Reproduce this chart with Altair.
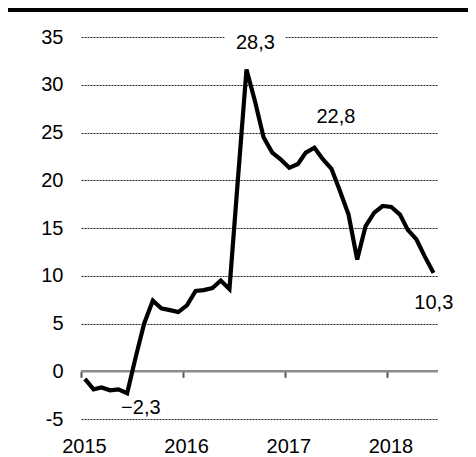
import altair as alt
import pandas as pd

# Monthly series, Jan 2015 - Jun 2018 (plotted mid-month)
months = [f"{y}-{m:02d}-15" for y in range(2015, 2019) for m in range(1, 13)][:42]
values = [-0.8, -1.9, -1.7, -2.0, -1.9, -2.3, 1.4, 5.0, 7.4, 6.6, 6.4, 6.2,
          6.9, 8.4, 8.5, 8.7, 9.5, 8.6, 20.0, 31.6, 28.2, 24.5, 22.9, 22.2,
          21.3, 21.7, 22.9, 23.4, 22.2, 21.2, 18.9, 16.4, 11.7, 15.2, 16.6, 17.3,
          17.2, 16.4, 14.8, 13.8, 12.0, 10.3]

# Annotations
label_text = ["28,3", "22,8", "10,3", "\u22122,3"]
label_date = ["2016-09-16", "2017-07-01", "2018-06-16", "2015-08-03"]
label_value = [33.7, 26.0, 6.5, -4.45]

# white knock-out behind the "28,3" label
knock_x = ["2016-05-29"]
knock_x2 = ["2017-01-01"]
knock_y = [33.3]
knock_y2 = [36.0]

y_ticks = [-5, 0, 5, 10, 15, 20, 25, 30, 35]
x_years = [2015, 2016, 2017, 2018]

# zero baseline band (horizontal axis line)
zero_x = ["2015-01-01"]
zero_x2 = ["2018-07-01"]
zero_y = [-0.13]
zero_y2 = [0.13]

FONT = "Liberation Sans"
FS = 20

df = pd.DataFrame({"date": months, "value": values})
lab = pd.DataFrame({"date": label_date, "value": label_value, "text": label_text})
knock = pd.DataFrame({"x": knock_x, "x2": knock_x2, "y": knock_y, "y2": knock_y2})
zero = pd.DataFrame({"x": zero_x, "x2": zero_x2, "y": zero_y, "y2": zero_y2})

xscale = alt.Scale(type="utc", domain=[alt.DateTime(year=2015, month=1, date=1, utc=True),
                                       alt.DateTime(year=2018, month=7, date=1, utc=True)])
yscale = alt.Scale(domain=[-5, 35], nice=False, zero=False)

xaxis = alt.Axis(values=[alt.DateTime(year=y, month=1, date=1, utc=True) for y in x_years],
                 format="%Y", offset=-47.7, domain=False,
                 ticks=True, tickColor="#555555", tickSize=6, tickWidth=2,
                 labelFont=FONT, labelFontSize=FS, labelColor="black",
                 labelPadding=59.5, labelOffset=3, grid=False, labelFlush=False)
yaxis = alt.Axis(values=y_ticks, labelExpr="'' + datum.value", domain=False, ticks=False,
                 grid=True,
                 gridColor={"condition": {"test": "datum.value === 0", "value": "transparent"},
                            "value": "#222222"},
                 gridDash=[2, 1], gridWidth=1,
                 labelFont=FONT, labelFontSize=FS, labelColor="black", labelPadding=18)

zband = alt.Chart(zero).mark_rect(color="#8c8c8c").encode(
    x=alt.X("x:T", scale=xscale, title=None, axis=xaxis), x2="x2:T",
    y=alt.Y("y:Q", scale=yscale, title=None, axis=yaxis), y2="y2:Q",
)

line = alt.Chart(df).mark_line(color="black", strokeWidth=4.2, clip=False).encode(
    x=alt.X("date:T", scale=xscale, title=None, axis=xaxis),
    y=alt.Y("value:Q", scale=yscale, title=None, axis=yaxis),
)

knockout = alt.Chart(knock).mark_rect(color="white").encode(
    x=alt.X("x:T", scale=xscale, title=None, axis=xaxis), x2="x2:T",
    y=alt.Y("y:Q", scale=yscale, title=None, axis=yaxis), y2="y2:Q",
)

texts = alt.Chart(lab).mark_text(font=FONT, fontSize=FS, color="black", align="center",
                                 baseline="alphabetic").encode(
    x=alt.X("date:T", scale=xscale, title=None, axis=xaxis),
    y=alt.Y("value:Q", scale=yscale, title=None, axis=yaxis),
    text="text:N",
)

topbar = alt.Chart(pd.DataFrame({"a": [0]})).mark_rule(color="black", strokeWidth=4).encode(
    x=alt.value(-73), x2=alt.value(387), y=alt.value(-27)
)

chart = alt.layer(knockout, zband, line, texts, topbar).properties(
    width=357, height=382,
    autosize=alt.AutoSizeParams(type="none"),
    padding={"left": 73, "top": 29, "right": 30, "bottom": 38},
).configure(background="white").configure_view(stroke="transparent").configure_axisX(grid=False)

chart.save("out.html", embed_options={"renderer": "svg", "actions": False})
